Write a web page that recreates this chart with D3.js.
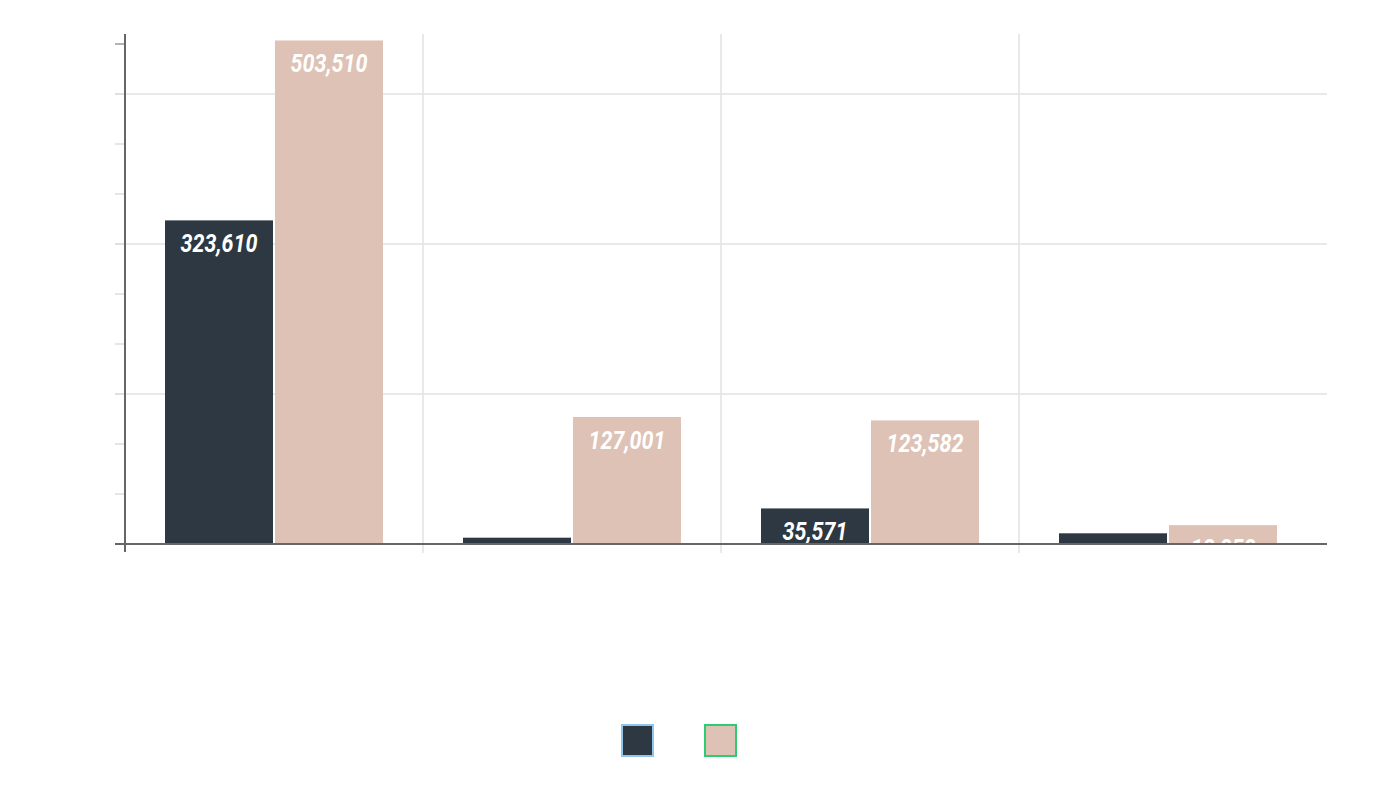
<!DOCTYPE html>
<html>
<head>
<meta charset="utf-8">
<script src="https://cdn.jsdelivr.net/npm/d3@7"></script>
<style>
  html, body { margin: 0; padding: 0; background: #fff; }
  svg { display: block; }
  .lbl { font-family: Roboto, "DejaVu Sans", sans-serif; font-weight: 700; font-style: italic; fill: #fff; }
</style>
</head>
<body>
<svg id="chart" width="1400" height="800"></svg>
<script>
const categories = ["A", "B", "C", "D"];
const seriesNames = ["Series 1", "Series 2"];
const series1 = [323610, 6300, 35571, 10700];
const series2 = [503510, 127001, 123582, 18858];
const labels1 = ["323,610", "", "35,571", ""];
const labels2 = ["503,510", "127,001", "123,582", "18,858"];
const yTicks = [0, 50000, 100000, 150000, 200000, 250000, 300000, 350000, 400000, 450000, 500000];
const yGrid = [150000, 300000, 450000];
const colors = ["#2d3843", "#dec2b5"];
const legendStroke = ["#93c5ea", "#2ecc71"];

(function () {
const svg = d3.select("#chart");
const pTop = 34, pBottom = 544, pLeft = 125, pRight = 1327, bandRight = 1317;

const x = d3.scaleBand().domain(categories).range([pLeft, bandRight]);
const xInner = d3.scaleBand().domain(seriesNames).range([40, 258]).paddingInner(2 / 110);
const y = d3.scaleLinear().domain([0, 510000]).range([pBottom, pTop]);

svg.append("g").selectAll("line").data(yGrid).join("line")
  .attr("x1", pLeft - 10).attr("x2", pRight)
  .attr("y1", d => y(d)).attr("y2", d => y(d))
  .attr("stroke", "#e2e2e2").attr("stroke-width", 1.5);

svg.append("g").selectAll("line").data(categories.slice(1)).join("line")
  .attr("x1", d => x(d)).attr("x2", d => x(d))
  .attr("y1", pTop).attr("y2", pBottom + 9)
  .attr("stroke", "#e2e2e2").attr("stroke-width", 1.5);

svg.append("g").selectAll("line").data(yTicks.filter(t => t > 0)).join("line")
  .attr("x1", pLeft - 10).attr("x2", pLeft)
  .attr("y1", d => y(d)).attr("y2", d => y(d))
  .attr("stroke", d => d === 500000 ? "#9a9a9a" : "#dddddd").attr("stroke-width", 1.5);

svg.append("defs").append("clipPath").attr("id", "plotclip")
  .append("rect").attr("x", pLeft).attr("y", pTop).attr("width", pRight - pLeft).attr("height", pBottom - pTop);

const data = categories.map((c, i) => ({ cat: c, vals: [series1[i], series2[i]], labels: [labels1[i], labels2[i]] }));

const groups = svg.append("g").selectAll("g").data(data).join("g")
  .attr("transform", d => `translate(${x(d.cat)},0)`);

groups.selectAll("rect").data(d => d.vals.map((v, j) => ({ v, j }))).join("rect")
  .attr("x", d => xInner(seriesNames[d.j]))
  .attr("width", xInner.bandwidth())
  .attr("y", d => y(d.v))
  .attr("height", d => pBottom - y(d.v))
  .attr("fill", d => colors[d.j]);

const lblLayer = svg.append("g").attr("clip-path", "url(#plotclip)");
data.forEach(d => {
  d.vals.forEach((v, j) => {
    if (!d.labels[j]) return;
    const cx = x(d.cat) + xInner(seriesNames[j]) + xInner.bandwidth() / 2;
    const cy = y(v) + 32;
    lblLayer.append("text").attr("class", "lbl")
      .attr("transform", `translate(${cx},${cy}) scale(0.86,1)`)
      .attr("text-anchor", "middle")
      .attr("font-size", 25)
      .text(d.labels[j]);
  });
});

svg.append("line").attr("x1", pLeft - 10).attr("x2", pRight).attr("y1", pBottom).attr("y2", pBottom)
  .attr("stroke", "#666").attr("stroke-width", 2);
svg.append("line").attr("x1", pLeft).attr("x2", pLeft).attr("y1", pTop).attr("y2", pBottom + 8)
  .attr("stroke", "#666").attr("stroke-width", 2);

svg.append("g").selectAll("rect").data(seriesNames).join("rect")
  .attr("x", (d, i) => 622 + i * 83).attr("y", 725)
  .attr("width", 31).attr("height", 31)
  .attr("fill", (d, i) => colors[i])
  .attr("stroke", (d, i) => legendStroke[i]).attr("stroke-width", 2);
})();
</script>
</body>
</html>
